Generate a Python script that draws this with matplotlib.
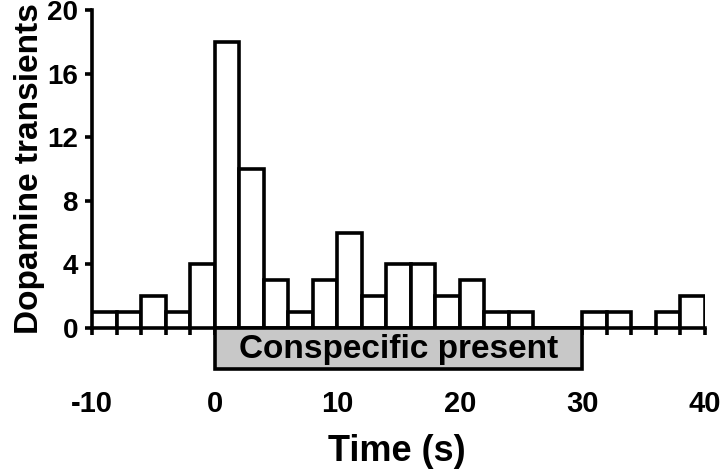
import matplotlib
matplotlib.use("Agg")
import matplotlib.pyplot as plt
from matplotlib.patches import Rectangle
from matplotlib.ticker import MultipleLocator

# ---------------------------------------------
# DATA
# ---------------------------------------------
bin_starts = list(range(-10, 40, 2))
counts = [1, 1, 2, 1, 4, 18, 10, 3, 1, 3, 6, 2, 4, 4, 2, 3, 1, 1, 0, 0, 1, 1, 0, 1, 2]
bin_width = 2

stim_start = 0
stim_end = 30
stim_label = "Conspecific present"

x_ticks = [-10, 0, 10, 20, 30, 40]
y_ticks = [0, 4, 8, 12, 16, 20]

# ---------------------------------------------
# FIGURE
# ---------------------------------------------
plt.rcParams["font.family"] = ["Liberation Sans", "DejaVu Sans"]
plt.rcParams["font.weight"] = "bold"
plt.rcParams["axes.unicode_minus"] = False

W, H = 720, 472
LW = 2.6
fig = plt.figure(figsize=(7.2, 4.72), dpi=100)
ax = fig.add_axes([92 / W, 1 - 328 / H, 613 / W, 318 / H])

ax.bar(bin_starts, counts, width=bin_width, align="edge",
       facecolor="white", edgecolor="black", linewidth=LW, zorder=3)

ax.set_xlim(-10, 40)
ax.set_ylim(0, 20)

for s in ["top", "right"]:
    ax.spines[s].set_visible(False)
for s in ["left", "bottom"]:
    ax.spines[s].set_linewidth(LW)

ax.set_yticks(y_ticks)
ax.set_xticks(x_ticks)
ax.xaxis.set_minor_locator(MultipleLocator(2))
ax.tick_params(axis="both", which="both", direction="out", length=5, width=LW)
ax.tick_params(axis="x", which="major", pad=40, labelsize=21)
ax.tick_params(axis="y", which="major", pad=5, labelsize=20)
for lab in ax.get_xticklabels() + ax.get_yticklabels():
    lab.set_fontweight("bold")

# stimulus window box under the axis
box = Rectangle((stim_start, -2.55), stim_end - stim_start, 2.55,
                facecolor="#c8c8c8", edgecolor="black", linewidth=LW,
                clip_on=False, zorder=5)
ax.add_patch(box)
ax.text((stim_start + stim_end) / 2, -1.89, stim_label, ha="center", va="baseline",
        fontsize=24, fontweight="bold", clip_on=False, zorder=6)

fig.text(38 / W, 1 - 169 / H, "Dopamine transients", rotation=90,
         rotation_mode="anchor", ha="center", va="baseline",
         fontsize=24, fontweight="bold")
fig.text(397 / W, 1 - 461 / H, "Time (s)", ha="center", va="baseline",
         fontsize=26, fontweight="bold")

plt.savefig("out.png", dpi=100)
plt.close()
